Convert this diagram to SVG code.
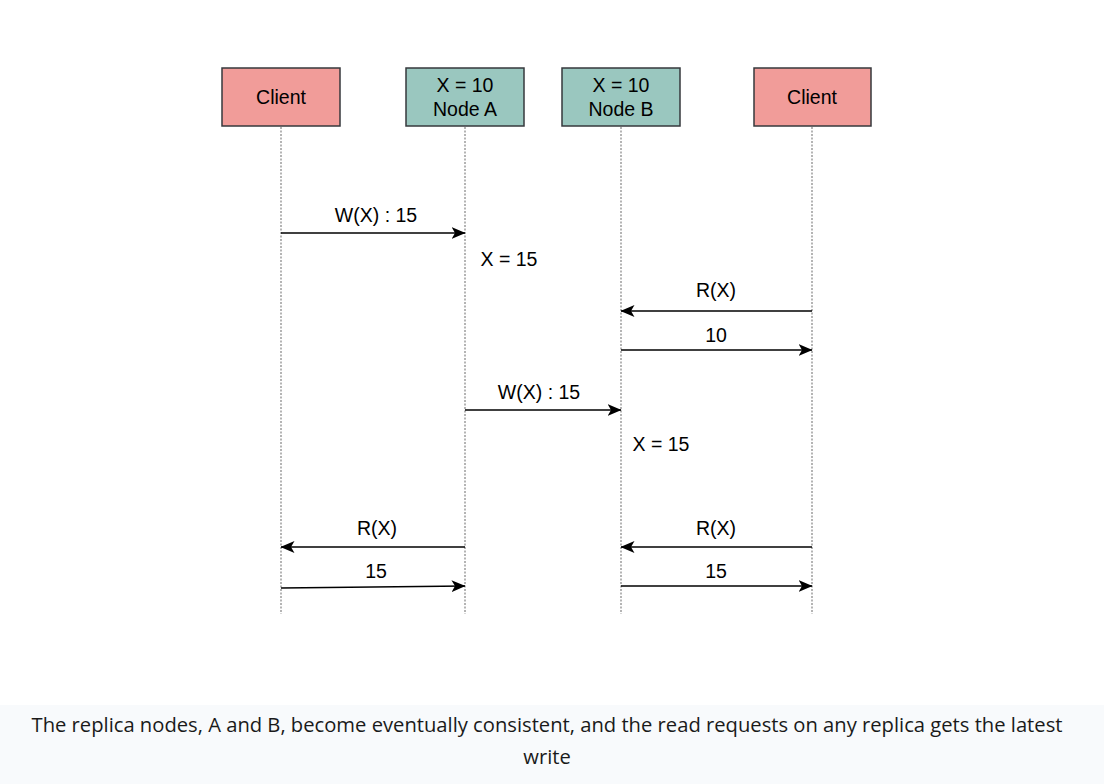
<svg xmlns="http://www.w3.org/2000/svg" width="1104" height="784" viewBox="0 0 1104 784">
<defs>
<style>
.lbl{font-family:"Liberation Sans",Arial,sans-serif;font-size:19.5px;fill:#000;text-anchor:middle}
.life{stroke:#777;stroke-width:1.1;stroke-dasharray:2 1.5;fill:none}
.msg{stroke:#000;stroke-width:1.4;fill:none}
.client{fill:#f19c99;stroke:#36393d;stroke-width:1.5}
.node{fill:#9ac7bf;stroke:#36393d;stroke-width:1.5}
.cap{font-family:"Open Sans",Lato,sans-serif;font-size:20.2px;fill:#1a1a1a;text-anchor:middle}
</style>
<marker id="ah" viewBox="0 0 14 12" refX="13.5" refY="6" markerWidth="14" markerHeight="12" markerUnits="userSpaceOnUse" orient="auto">
<path d="M0,0 L14,6 L0,12 L3.5,6 Z" fill="#000"/>
</marker>
</defs>
<rect width="1104" height="784" fill="#fff"/>
<rect x="0" y="705" width="1104" height="79" fill="#f8fafc"/>
<g id="lifelines">
<line class="life" x1="281" y1="127" x2="281" y2="614"/>
<line class="life" x1="465" y1="127" x2="465" y2="614"/>
<line class="life" x1="621" y1="127" x2="621" y2="614"/>
<line class="life" x1="812" y1="127" x2="812" y2="614"/>
</g>
<g id="client1"><rect class="client" x="222" y="68" width="118" height="58"/><text class="lbl" x="281" y="104">Client</text></g>
<g id="nodeA"><rect class="node" x="406" y="68" width="118" height="58"/><text class="lbl" x="465" y="92">X = 10</text><text class="lbl" x="465" y="116">Node A</text></g>
<g id="nodeB"><rect class="node" x="562" y="68" width="118" height="58"/><text class="lbl" x="621" y="92">X = 10</text><text class="lbl" x="621" y="116">Node B</text></g>
<g id="client2"><rect class="client" x="754" y="68" width="117" height="58"/><text class="lbl" x="812" y="104">Client</text></g>
<g id="connectors">
<line class="msg" x1="281" y1="233" x2="465" y2="233" marker-end="url(#ah)"/>
<line class="msg" x1="812" y1="311" x2="621" y2="311" marker-end="url(#ah)"/>
<line class="msg" x1="621" y1="350" x2="812" y2="350" marker-end="url(#ah)"/>
<line class="msg" x1="465" y1="410" x2="621" y2="410" marker-end="url(#ah)"/>
<line class="msg" x1="465" y1="547" x2="281" y2="547" marker-end="url(#ah)"/>
<line class="msg" x1="281" y1="588" x2="465" y2="586" marker-end="url(#ah)"/>
<line class="msg" x1="812" y1="547" x2="621" y2="547" marker-end="url(#ah)"/>
<line class="msg" x1="621" y1="586" x2="812" y2="586" marker-end="url(#ah)"/>
</g>
<g id="labels">
<text class="lbl" x="376" y="222">W(X) : 15</text>
<text class="lbl" x="509" y="266">X = 15</text>
<text class="lbl" x="716" y="297">R(X)</text>
<text class="lbl" x="716" y="342">10</text>
<text class="lbl" x="539" y="399">W(X) : 15</text>
<text class="lbl" x="661" y="451">X = 15</text>
<text class="lbl" x="377" y="535">R(X)</text>
<text class="lbl" x="376" y="578">15</text>
<text class="lbl" x="716" y="535">R(X)</text>
<text class="lbl" x="716" y="578">15</text>
</g>
<g id="caption">
<text class="cap" x="547" y="732">The replica nodes, A and B, become eventually consistent, and the read requests on any replica gets the latest</text>
<text class="cap" x="547" y="764">write</text>
</g>
</svg>
